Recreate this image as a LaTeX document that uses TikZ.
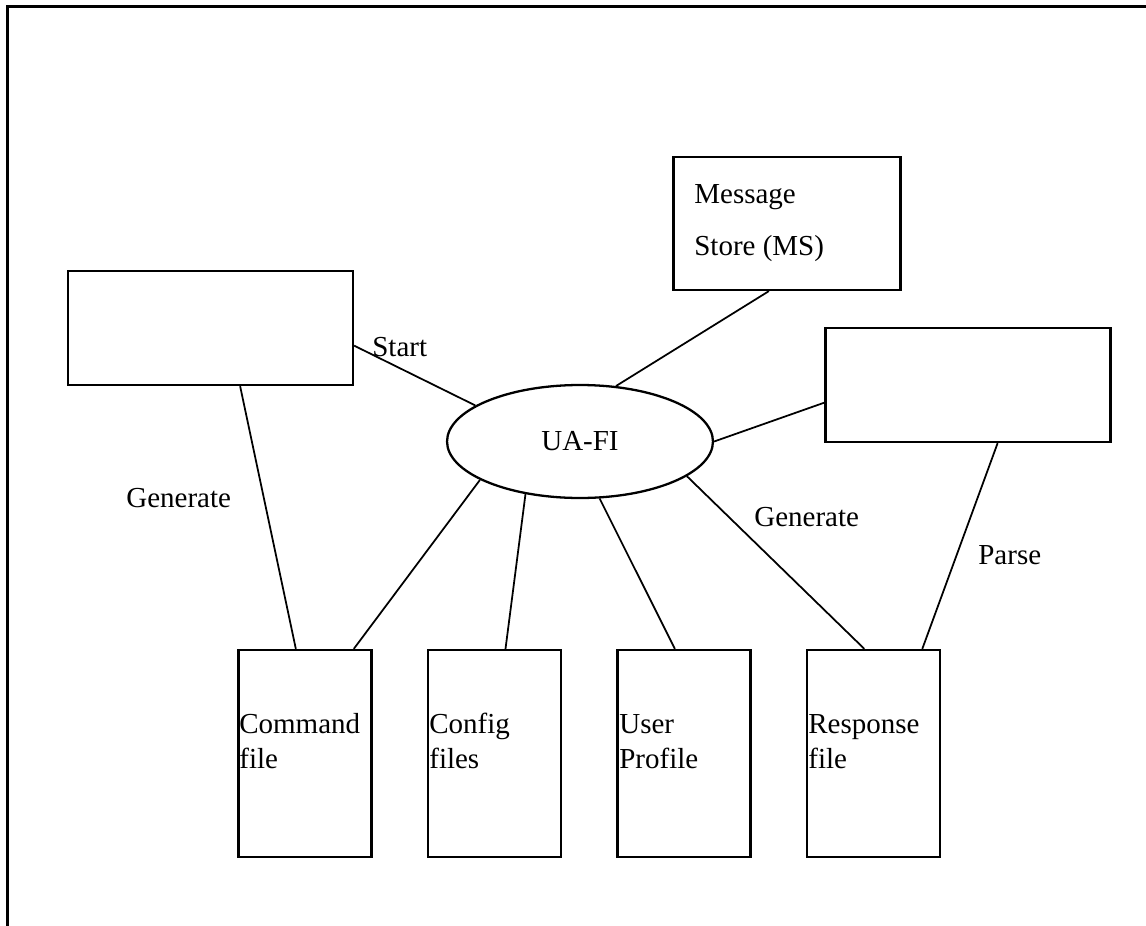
\documentclass[tikz,border=0pt]{standalone}
\usepackage{fontspec}
\setmainfont{Liberation Serif}
\usetikzlibrary{shapes.geometric}
\begin{document}
\begin{tikzpicture}[x=0.02cm,y=-0.02cm,
		font=\fontsize{16.5}{20}\selectfont,
		wide/.style={draw,line width=1.3pt,inner sep=0pt,minimum width=5.7cm,minimum height=2.28cm},
		filebox/.style={draw,line width=1.3pt,inner sep=0pt,minimum width=2.66cm,minimum height=4.14cm},
		txt/.style={anchor=base west,inner sep=0pt},
		link/.style={line width=1pt}]
	\useasboundingbox (0,0) rectangle (1146,926);
	% frame
	\draw[line width=1.3pt] (1146,6.5) -- (7.5,6.5) -- (7.5,926);
	% boxes
	\node[wide] (app) at (210.5,328) {};
	\node[wide] (ext) at (968,385) {};
	\node[draw,line width=1.3pt,inner sep=0pt,minimum width=4.54cm,minimum height=2.66cm] (ms) at (787,223.5) {};
	\node[ellipse,draw,line width=1.3pt,inner sep=0pt,minimum width=5.32cm,minimum height=2.26cm] (ua) at (580,441.5) {UA-FI};
	\foreach \x/\n in {305/cmd,494.5/cfg,684/usr,873.5/rsp}
		\node[filebox] (\n) at (\x,753.5) {};
	% texts
	\node[txt] (ms1) at (694,203) {Message};
	\node[txt] (ms2) at (694,255) {Store (MS)};
	\foreach \x/\a/\b [count=\i] in {239/Command/file,429/Config/files,619/User/Profile,808/Response/file}{
		\node[txt] (f\i a) at (\x,733) {\a};
		\node[txt] (f\i b) at (\x,768) {\b};
	}
	\node[txt] (start) at (372,356) {Start};
	\node[txt] (gen1) at (126,507) {Generate};
	\node[txt] (gen2) at (754,526) {Generate};
	\node[txt] (parse) at (978,564) {Parse};
	% links
	\draw[link] (app.-7.6) -- (ua.161);
	\draw[link] (ms.-105) -- (ua.57.5);
	\draw[link] (ext.187) -- (ua.east);
	\draw[link] (app.-63.8) -- (cmd.95.5);
	\draw[link] (ua.201.5) -- (cmd.65.3);
	\draw[link] (ua.224.2) -- (cfg.84.8);
	\draw[link] (ua.-71.4) -- (usr.95.5);
	\draw[link] (ua.-18.4) -- (rsp.95.8);
	\draw[link] (ext.-63.8) -- (rsp.65.3);
\end{tikzpicture}
\end{document}
